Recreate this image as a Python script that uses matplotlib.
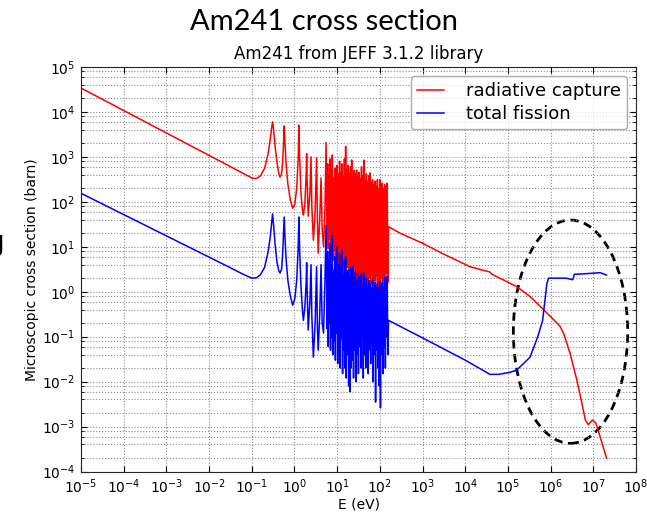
import numpy as np
import matplotlib
matplotlib.use('Agg')
import matplotlib.pyplot as plt
from matplotlib.patches import Ellipse
from matplotlib.ticker import LogLocator, NullLocator

# --- data (energies in eV, cross sections in barn) ---
# thermal / first resolved resonances, shared energy grid
low_E = [1e-5, 1e-4, 1e-3, 1e-2, 0.03, 0.06, 0.09, 0.1, 0.13, 0.16,
         0.2, 0.24, 0.27, 0.29, 0.307, 0.325, 0.35, 0.39, 0.43, 0.46,
         0.5, 0.53, 0.555, 0.575, 0.6, 0.64, 0.7, 0.8, 0.91, 1.02,
         1.13, 1.22, 1.27, 1.32, 1.42, 1.55, 1.62, 1.75, 1.88, 1.93,
         1.98, 2.1, 2.3, 2.44, 2.55, 2.77, 3.05, 3.3, 3.45, 3.6,
         3.9, 4.2, 4.45, 4.8, 5.2, 5.5]
cap_low = [34000, 10750, 3400, 1075, 620, 440, 360, 335, 330, 380,
           560, 1150, 2400, 4200, 6000, 4000, 1800, 750, 420, 355,
           420, 800, 2000, 4900, 2000, 650, 250, 110, 72, 90,
           200, 900, 5100, 1000, 160, 60, 51, 90, 400, 1175,
           300, 48, 150, 1000, 80, 14, 60, 950, 40, 7.2,
           40, 340, 25, 10, 80, 2100]
fis_low = [155, 52, 17.5, 5.9, 3.5, 2.5, 2.1, 2.0, 2.05, 2.4,
           3.5, 7.5, 16, 32, 54, 30, 12, 4.5, 2.9, 2.6,
           3.2, 7, 20, 46, 16, 5, 1.8, 0.8, 0.5, 0.7,
           1.8, 9, 46, 9, 1.3, 0.35, 0.23, 0.45, 1.6, 4.4,
           1.1, 0.14, 0.6, 4.0, 0.3, 0.035, 0.2, 3.6, 0.15, 0.05,
           0.3, 4.0, 0.2, 0.12, 2, 30]

# dense resolved resonance region (alternating trough / peak)
dense_E = [5.8, 6.0, 6.2, 6.4, 6.6, 6.8, 7.0, 7.2, 7.5, 7.7,
           8.0, 8.2, 8.5, 8.8, 9.1, 9.4, 9.7, 10.0, 10.3, 10.7,
           11.0, 11.4, 11.8, 12.2, 12.6, 13.0, 13.4, 13.9, 14.3, 14.8,
           15.3, 15.8, 16.3, 16.9, 17.4, 18.0, 18.6, 19.2, 19.9, 20.5,
           21.2, 21.9, 22.7, 23.4, 24.2, 25.0, 25.9, 26.7, 27.6, 28.6,
           29.5, 30.5, 31.5, 32.6, 33.7, 34.8, 36.0, 37.2, 38.4, 39.7,
           41.0, 42.4, 43.8, 45.3, 46.8, 48.4, 50.0, 51.7, 53.4, 55.2,
           57.1, 59.0, 61.0, 63.0, 65.1, 67.3, 69.6, 71.9, 74.3, 76.8,
           79.4, 82.1, 84.8, 87.7, 90.6, 93.7, 96.8, 100.0, 103.4, 106.9,
           110.5, 114.2, 118.0, 122.0, 126.1, 130.3, 134.7, 139.2, 143.9, 148.7,
           153.7]
cap_dense = [12, 700, 9, 400, 15, 900, 6, 500, 10, 1100,
             5, 350, 8, 560, 4, 300, 7, 650, 3.5, 420,
             6, 800, 3, 450, 5, 700, 2.5, 380, 4, 900,
             3, 1700, 2.2, 500, 3.5, 650, 2, 420, 3, 600,
             1.8, 850, 2.5, 360, 1.6, 500, 3, 420, 1.5, 510,
             2.5, 380, 1.4, 450, 2.2, 330, 1.6, 600, 2.8, 380,
             1.3, 850, 2, 300, 1.5, 420, 2.6, 280, 1.2, 380,
             2, 440, 1.4, 260, 2.4, 310, 1.1, 240, 1.8, 290,
             1.2, 220, 2.2, 310, 1.0, 200, 1.6, 310, 1.1, 230,
             2.0, 260, 1.2, 200, 1.8, 240, 1.3, 220, 2.5, 260,
             1.6]
fis_dense = [0.15, 8, 0.06, 5, 0.2, 12, 0.05, 4, 0.1, 18,
             0.04, 3, 0.08, 6, 0.03, 3, 0.12, 10, 0.025, 4,
             0.06, 7, 0.02, 3.5, 0.09, 8.5, 0.015, 2.5, 0.05, 5,
             0.02, 6, 0.012, 2.5, 0.04, 3, 0.008, 2.2, 0.006, 3.5,
             0.02, 3, 0.03, 3.6, 0.012, 2, 0.05, 2.8, 0.01, 1.8,
             0.04, 2.5, 0.015, 1.6, 0.06, 2.2, 0.02, 2.6, 0.1, 1.5,
             0.012, 2.6, 0.04, 1.4, 0.02, 2, 0.08, 1.3, 0.015, 1.8,
             0.05, 1.5, 0.025, 1.2, 0.07, 1.8, 0.01, 1.1, 0.04, 1.6,
             0.0035, 1.2, 0.05, 1.5, 0.02, 1.1, 0.008, 1.7, 0.0026, 1.3,
             0.04, 1.6, 0.015, 1.2, 0.06, 2.1, 0.02, 1.4, 0.1, 2.2,
             0.04]

# unresolved / fast region
cap_E_high = [160, 300, 1000, 3000, 1.3e4, 3.0e4, 3.8e4, 4.2e4, 1.6e5, 3.3e5,
              1.0e6, 1.66e6, 2.0e6, 2.85e6, 4.1e6, 5.4e6, 6.5e6, 7.6e6, 9.5e6, 1.15e7,
              2.04e7]
cap_high = [28, 20, 12, 7, 3.6, 2.9, 2.75, 2.45, 1.3, 0.78,
            0.28, 0.17, 0.12, 0.043, 0.011, 0.0033, 0.0014, 0.0011, 0.0014, 0.0012,
            0.0002]
fis_E_high = [160, 1000, 1e4, 3.8e4, 6e4, 1.1e5, 1.6e5, 3.3e5, 5e5, 6.5e5,
              7.4e5, 8.2e5, 9e5, 1.5e6, 2.3e6, 3.3e6, 3.6e6, 6e6, 1.45e7, 2.04e7]
fis_high = [0.23, 0.094, 0.03, 0.0145, 0.0145, 0.016, 0.018, 0.035, 0.1, 0.23,
            0.66, 1.55, 2.0, 2.0, 2.0, 1.85, 2.45, 2.5, 2.65, 2.35]

E_cap = low_E + dense_E + cap_E_high
xs_cap = cap_low + cap_dense + cap_high
E_fis = low_E + dense_E + fis_E_high
xs_fis = fis_low + fis_dense + fis_high

fig = plt.figure(figsize=(6.47, 5.12), dpi=100)
fig.patch.set_facecolor('white')
ax = fig.add_axes([81/647, 1 - 471.5/512, 555/647, 404.5/512])

ax.loglog(E_cap, xs_cap, color='red', lw=1.1, label='radiative capture')
ax.loglog(E_fis, xs_fis, color='blue', lw=1.1, label='total fission')

ax.set_xlim(1e-5, 1e8)
ax.set_ylim(1e-4, 1e5)
ax.xaxis.set_major_locator(LogLocator(base=10, numticks=20))
ax.xaxis.set_minor_locator(NullLocator())
ax.yaxis.set_major_locator(LogLocator(base=10, numticks=20))
ax.yaxis.set_minor_locator(LogLocator(base=10, subs=(2, 4, 6, 8), numticks=20))
ax.grid(True, which='both', color='0.55', linestyle=':', linewidth=0.8)
ax.tick_params(which='both', direction='in', top=True, right=True, labelsize=10)
ax.tick_params(which='major', length=4, pad=4)
ax.tick_params(which='minor', length=2)
for s in ax.spines.values():
    s.set_color('0.15')

ax.set_title('Am241 from JEFF 3.1.2 library', fontsize=12)
ax.set_xlabel('E (eV)', fontsize=10, labelpad=1)
ax.set_ylabel('Microscopic cross section (barn)', fontsize=10, labelpad=2)

leg = ax.legend(loc='upper right', fontsize=13, handlelength=1.5,
                handletextpad=1.2, borderpad=0.35, labelspacing=0.25,
                borderaxespad=0.5, fancybox=True)
leg.get_frame().set_edgecolor('0.6')

# dashed ellipse around the fast-neutron region
ell = Ellipse((0.882, 0.3456), 0.206, 0.552, transform=ax.transAxes,
              fill=False, edgecolor='black', lw=2.0, linestyle=(0, (3, 2)))
ax.add_patch(ell)

# slide heading and cut-off slide text
fig.text(0.5, 0.958, 'Am241 cross section', ha='center', va='center',
         fontsize=21, family=['Lato', 'DejaVu Sans'])
fig.text(0.006, 0.525, 'g', fontsize=22, fontweight='bold', ha='right', va='center')

fig.savefig('out.png', dpi=100)
